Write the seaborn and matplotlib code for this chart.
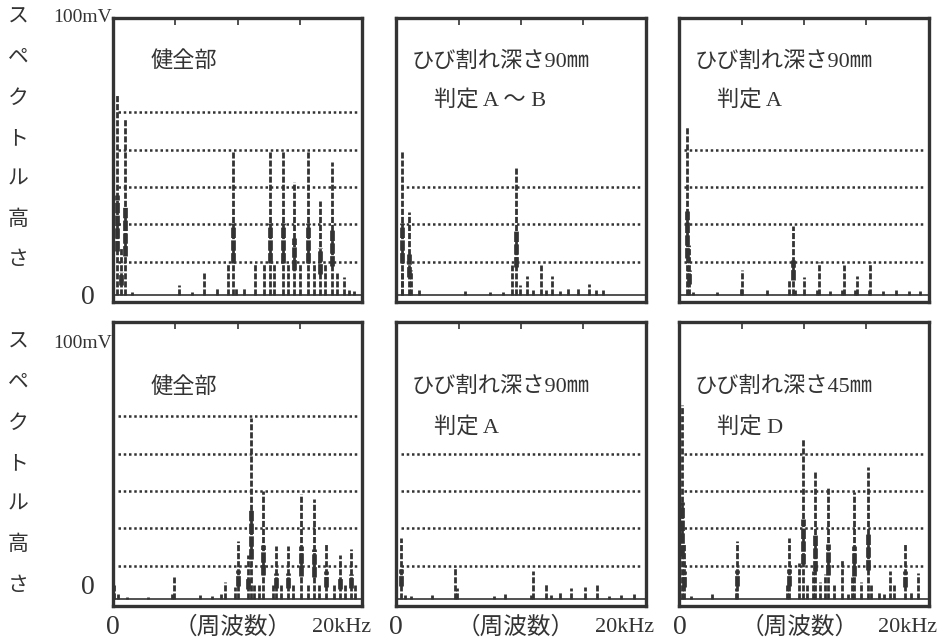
import numpy as np
import pandas as pd
import matplotlib
matplotlib.use("Agg")
import matplotlib.pyplot as plt
import seaborn as sns

#---------------------------------------------------
#   データ (周波数 kHz, スペクトル高さ mV)
#---------------------------------------------------
freq_1 = [0.3, 0.6, 0.95, 1.5, 5.3, 6.3, 7.3, 8.3, 9.2, 9.6, 9.9, 10.5, 11.4, 12.1, 12.6, 12.9, 13.6,
          14.0, 14.5, 15.0, 15.6, 16.1, 16.6, 17.0, 17.6, 18.0, 18.5, 18.9, 19.3]
amp_1 = [72.5, 17, 64, 1, 3.6, 1, 8, 3, 11.5, 52, 3, 2.5, 11.5, 11.5, 52, 11.5, 52,
         11.5, 41, 11.5, 52, 11.5, 34, 11.5, 48, 8, 6.6, 2, 1.5]

freq_2 = [0.45, 0.5, 1.0, 1.2, 1.8, 5.5, 7.5, 8.6, 9.3, 9.6, 9.9, 10.5, 11.0, 11.6, 12.0, 12.5,
          13.1, 13.8, 14.6, 15.5, 16.0, 16.6]
amp_2 = [9, 52, 30, 9, 2, 1.5, 1, 1, 11, 46, 3.6, 7, 2, 11, 2, 7,
         1.5, 2.5, 3, 4, 2, 2]

freq_3 = [0.6, 0.8, 1.1, 3.0, 4.9, 5.05, 7.0, 8.8, 9.1, 9.3, 10.0, 11.0, 11.2, 12.1, 13.0, 13.2,
          14.1, 14.2, 15.2, 15.3, 16.3, 17.4, 18.4, 19.3]
amp_3 = [61, 18, 1, 1, 3, 9, 2, 6, 25, 2, 6.4, 2, 12, 1.5, 2, 11,
         2, 7, 2, 12, 1.5, 2, 1.5, 1.5]

freq_4 = [0.1, 0.4, 1.1, 2.8, 4.7, 4.9, 7.0, 7.9, 8.7, 9.0, 9.8, 10.0, 10.8, 11.1, 11.3, 11.7,
          12.0, 12.8, 13.1, 13.5, 14.0, 14.4, 15.1, 15.6, 16.1, 16.5, 17.1, 17.7, 18.2, 18.6,
          19.1, 19.4]
amp_4 = [5, 2, 0.6, 0.6, 2, 8, 1.5, 1, 2, 6, 4.4, 21, 16, 65.5, 5, 5,
         39, 5, 19, 5, 19, 5, 38, 5, 36, 5, 20, 5, 16, 5,
         18, 5]

freq_5 = [0.4, 0.7, 1.2, 2.9, 4.7, 4.9, 7.8, 8.7, 10.8, 11.0, 12.0, 12.4, 13.1, 14.0, 15.1,
          16.1, 17.1, 18.0, 19.1]
amp_5 = [22, 1.5, 1, 1.5, 12, 4, 1, 1.7, 1.5, 10, 5.6, 1.5, 3, 4, 4.4,
         5, 1, 1.5, 2]

freq_6 = [0.2, 0.4, 0.9, 2.6, 4.5, 4.6, 8.6, 8.8, 9.6, 9.9, 10.2, 10.7, 10.9, 11.3, 11.7, 11.9,
          12.4, 13.0, 13.5, 13.8, 14.0, 14.6, 15.1, 15.4, 16.0, 16.4, 16.9, 17.2, 18.1, 18.6, 19.1]
amp_6 = [70, 20, 1, 2, 4, 21, 5, 22, 13, 58, 5, 10, 46, 6, 9, 40,
         5, 14.5, 2, 8, 38.5, 6, 47.6, 5, 3, 2, 10, 5, 20, 3, 9.6]

# パネル内の文字
panel_labels = [["健全部"], ["ひび割れ深さ90㎜", "判定 A ～ B"], ["ひび割れ深さ90㎜", "判定 A"],
                ["健全部"], ["ひび割れ深さ90㎜", "判定 A"], ["ひび割れ深さ45㎜", "判定 D"]]
grid_levels = [12, 25.5, 39, 52.5, 66]
grid_counts = [5, 3, 4, 5, 4, 4]
ylabel_chars = ["ス", "ペ", "ク", "ト", "ル", "高", "さ"]

ink = "#333333"

#---------------------------------------------------
#   描画
#---------------------------------------------------
sns.set_theme(style="white")
plt.rcParams['font.family'] = ['Liberation Serif', 'Noto Sans CJK JP', 'DejaVu Sans']
plt.rcParams['text.color'] = ink
plt.rcParams['lines.dash_capstyle'] = 'butt'
plt.rcParams['lines.solid_capstyle'] = 'butt'

freqs = [freq_1, freq_2, freq_3, freq_4, freq_5, freq_6]
amps = [amp_1, amp_2, amp_3, amp_4, amp_5, amp_6]
df = pd.concat([pd.DataFrame({'panel': i, 'freq': f, 'amp': a})
                for i, (f, a) in enumerate(zip(freqs, amps))], ignore_index=True)


def draw_peaks(data, color=None, **kws):
	ax = plt.gca()
	f = data['freq'].to_numpy()
	a = data['amp'].to_numpy()
	ax.axhline(0, color=ink, lw=1.2, zorder=2)
	ax.vlines(f, 0, a, colors=ink, linewidth=2.0, linestyles=(0, (2.2, 0.7)), zorder=3)
	big = a > 15
	ax.vlines(f[big], a[big] * 0.22, a[big] * 0.5, colors=ink, linewidth=3.4,
	          linestyles=(0, (2.2, 0.5)), zorder=3)


g = sns.FacetGrid(df, col='panel', col_wrap=3, sharex=True, sharey=True, despine=False,
                  height=2.84, aspect=0.88)
g.map_dataframe(draw_peaks)
g.set_titles('')
g.set_axis_labels('', '')

fig = g.figure
fig.set_size_inches(9.42, 6.42)
fig.subplots_adjust(left=0.12, right=0.986, top=0.972, bottom=0.056, wspace=0.136, hspace=0.07)

for i, ax in enumerate(g.axes.flat):
	ax.set_xlim(0, 20)
	ax.set_ylim(-2.5, 100)
	for lv in grid_levels[:grid_counts[i]]:
		ax.axhline(lv, xmin=0.02, xmax=0.98, color=ink, lw=1.8, ls=(0, (1, 1.1)), zorder=1)
	for sp in ax.spines.values():
		sp.set_color(ink)
		sp.set_linewidth(2.4)
	ax.set_xticks([5, 10, 15])
	ax.set_yticks([])
	ax.tick_params(axis='x', top=True, bottom=False, direction='in', length=5, width=1.2,
	               color=ink, labelbottom=False, labeltop=False)
	# パネル内の文字
	lab = panel_labels[i]
	if i < 3:
		y0, dy = 0.845, 0.135
	else:
		y0, dy = 0.77, 0.14
	if len(lab) == 1:
		ax.text(0.15, y0, lab[0], transform=ax.transAxes, fontsize=16, va='center', ha='left')
	else:
		ax.text(0.06, y0, lab[0], transform=ax.transAxes, fontsize=16, va='center', ha='left')
		ax.text(0.15, y0 - dy, lab[1], transform=ax.transAxes, fontsize=16, va='center', ha='left')
	# 横軸の文字 (下段のみ)
	if i >= 3:
		ax.text(0.0, -0.075, "0", transform=ax.transAxes, fontsize=20, va='center', ha='center')
		ax.text(0.48, -0.075, "（周波数）", transform=ax.transAxes, fontsize=17, va='center', ha='center')
		ax.text(1.035, -0.075, "20kHz", transform=ax.transAxes, fontsize=16, va='center', ha='right')

# 縦軸の文字
W, H = 942.0, 642.0
for row, (top_y, mv_y, zero_y) in enumerate([(18, 18, 298), (343, 343, 587)]):
	for k, ch in enumerate(ylabel_chars):
		fig.text(18 / W, 1 - (top_y + 40.5 * k) / H, ch, fontsize=15, ha='center', va='center')
	fig.text(112 / W, 1 - mv_y / H, "100mV", fontsize=14, ha='right', va='center')
	fig.text(88 / W, 1 - zero_y / H, "0", fontsize=20, ha='center', va='center')

plt.savefig('out.png', dpi=100, facecolor='white')
